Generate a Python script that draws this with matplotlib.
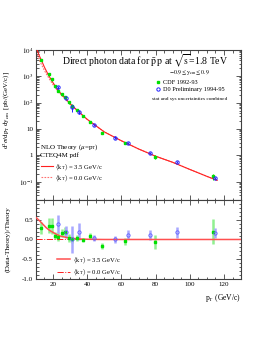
import matplotlib
matplotlib.use('Agg')
import matplotlib.pyplot as plt
from matplotlib.ticker import FixedLocator, FixedFormatter, MultipleLocator, NullFormatter
from matplotlib.lines import Line2D
import numpy as np

plt.rcParams['font.family'] = ['Liberation Serif', 'DejaVu Serif']
plt.rcParams['mathtext.fontset'] = 'stix'

# ---- data ----
cdf_pt = [12.7, 17.6, 19.4, 21.1, 23.2, 25.3, 27.0, 29.2, 31.1, 34.2, 37.8, 41.7, 48.7, 62.3, 79.9, 113.7]
cdf_val = [4150, 1200, 770, 410, 280, 210, 164, 102, 75, 51, 30, 19, 7.2, 3.0, 0.87, 0.16]
cdf_ratio = [0.29, 0.35, 0.35, 0.10, 0.07, 0.16, 0.20, 0.04, 0.00, 0.03, -0.01, 0.09, -0.16, -0.05, -0.06, 0.20]
cdf_err = [0.15, 0.19, 0.20, 0.10, 0.12, 0.10, 0.12, 0.10, 0.08, 0.08, 0.06, 0.07, 0.07, 0.08, 0.17, 0.32]

d0_pt = [23.0, 27.4, 31.4, 35.4, 44.0, 56.2, 63.8, 76.9, 92.6, 114.8]
d0_val = [380, 155, 68, 45, 13.9, 4.7, 2.9, 1.2, 0.55, 0.14]
d0_ratio = [0.39, 0.18, 0.00, 0.20, 0.04, 0.00, 0.12, 0.11, 0.18, 0.16]
d0_err = [0.22, 0.15, 0.35, 0.22, 0.08, 0.10, 0.12, 0.12, 0.13, 0.12]

theory_pt = [10, 11, 12, 13.5, 15, 17.5, 20, 22.5, 25, 30, 35, 40, 50, 60, 70, 80, 90, 100, 110, 116]
theory_kt0 = [8300, 5800, 4050, 2600, 1645, 860, 480, 290, 190, 87.5, 44.5, 23, 7.7, 3.55, 1.74, 0.92, 0.54, 0.29, 0.158, 0.112]
theory_kt35 = [12950, 8800, 5990, 3700, 2200, 1060, 571, 325, 205, 90.6, 45.2, 23.1, 7.7, 3.55, 1.74, 0.92, 0.54, 0.29, 0.158, 0.112]

ratio_pt = [10, 12, 14, 16, 18, 20, 22, 24, 26, 28, 32, 36, 40, 45, 50, 130]
ratio_kt35 = [0.56, 0.48, 0.39, 0.30, 0.23, 0.18, 0.13, 0.09, 0.07, 0.05, 0.025, 0.012, 0.006, 0.002, 0.0, 0.0]
ratio_kt0 = [0.0] * len(ratio_pt)

GREEN = '#00e000'
BLUE = '#2020ff'
RED = '#ff2020'

fig = plt.figure(figsize=(2.74, 3.54), dpi=100)
ax1 = fig.add_axes([0.131, 0.435, 0.749, 0.424])
ax2 = fig.add_axes([0.131, 0.212, 0.749, 0.223])

# ---- top panel ----
cdf_val_a = np.array(cdf_val)
cdf_top_err = cdf_val_a * np.array(cdf_err) / (1 + np.array(cdf_ratio))
d0_val_a = np.array(d0_val)
d0_top_err = d0_val_a * np.array(d0_err) / (1 + np.array(d0_ratio))

ax1.plot(theory_pt, theory_kt0, color='#ff7070', lw=0.8, ls=(0, (1.5, 1.2)), zorder=2)
ax1.plot(theory_pt, theory_kt35, color=RED, lw=0.8, zorder=3)
ax1.errorbar(cdf_pt, cdf_val, yerr=cdf_top_err, fmt='none', ecolor=GREEN, elinewidth=0.7, zorder=4)
ax1.errorbar(d0_pt, d0_val, yerr=d0_top_err, fmt='none', ecolor=BLUE, elinewidth=0.7, zorder=4)
h_cdf, = ax1.plot(cdf_pt, cdf_val, ls='none', marker='s', ms=1.9, color=GREEN, mec=GREEN, zorder=5)
h_d0, = ax1.plot(d0_pt, d0_val, ls='none', marker='o', ms=2.4, mfc='none', mec=BLUE, mew=0.7, zorder=6)

ax1.set_yscale('log')
ax1.set_xlim(10, 130)
ax1.set_ylim(0.02, 1e4)
ax1.yaxis.set_major_locator(FixedLocator([0.1, 1, 10, 100, 1000, 10000]))
ax1.yaxis.set_major_formatter(FixedFormatter([r'$10^{-1}$', '1', '10', r'$10^{2}$', r'$10^{3}$', r'$10^{4}$']))
ax1.yaxis.set_minor_formatter(NullFormatter())
ax1.xaxis.set_major_locator(MultipleLocator(20))
ax1.xaxis.set_minor_locator(MultipleLocator(5))
ax1.tick_params(labelbottom=False)

ax1.text(0.53, 0.928, r'Direct photon data for $\bar{\mathrm{p}}\,\mathrm{p}$ at $\sqrt{\mathrm{s}}$=1.8 TeV',
         transform=ax1.transAxes, ha='center', va='center', fontsize=7)
ax1.text(0.75, 0.848, r'$-0.9 \leq \mathrm{y_{cm}} \leq 0.9$', transform=ax1.transAxes,
         ha='center', va='center', fontsize=4.3)
leg1 = ax1.legend([h_cdf, h_d0], ['CDF 1992-93', 'D0 Preliminary 1994-95'],
                  loc='upper left', bbox_to_anchor=(0.56, 0.83), frameon=False, fontsize=4.5,
                  handlelength=1.0, handletextpad=0.3, labelspacing=0.25, borderpad=0.2)
ax1.add_artist(leg1)
ax1.text(0.75, 0.67, 'stat and sys uncertainties combined', transform=ax1.transAxes,
         ha='center', va='center', fontsize=3.8)

ax1.text(0.02, 0.355, r'NLO Theory ($\mu$=p$_\mathrm{T}$)', transform=ax1.transAxes,
         ha='left', va='center', fontsize=5)
ax1.text(0.02, 0.30, 'CTEQ4M pdf', transform=ax1.transAxes, ha='left', va='center', fontsize=5)
th_h1 = Line2D([], [], color=RED, lw=0.8)
th_h2 = Line2D([], [], color='#ff7070', lw=0.8, ls=(0, (1.5, 1.2)))
ax1.legend([th_h1, th_h2],
           [r'$\langle \mathrm{k_T} \rangle$ = 3.5 GeV/c', r'$\langle \mathrm{k_T} \rangle$ = 0.0 GeV/c'],
           loc='upper left', bbox_to_anchor=(0.0, 0.285), frameon=False, fontsize=4.8,
           handlelength=1.8, handletextpad=0.4, labelspacing=0.2, borderpad=0.2)

ax1.set_ylabel(r'$\mathrm{d}^{2}\sigma/\mathrm{dp_{T}\,dy_{cm}}$  [pb/(GeV/c)]', fontsize=5)
ax1.yaxis.set_label_coords(-0.115, 0.6)

# ---- bottom panel ----
ax2.errorbar(cdf_pt, cdf_ratio, yerr=cdf_err, fmt='none', ecolor='#90f090', elinewidth=1.8, zorder=2)
ax2.errorbar(d0_pt, d0_ratio, yerr=d0_err, fmt='none', ecolor='#a8a8ff', elinewidth=1.8, zorder=2)
ax2.plot(ratio_pt, ratio_kt0, color=RED, lw=0.7, ls='-.', zorder=3)
ax2.plot(ratio_pt, ratio_kt35, color='#ff5050', lw=1.1, zorder=3)
ax2.plot(cdf_pt, cdf_ratio, ls='none', marker='s', ms=1.9, color=GREEN, mec=GREEN, zorder=5)
ax2.plot(d0_pt, d0_ratio, ls='none', marker='o', ms=2.4, mfc='none', mec='#6060ff', mew=0.6, zorder=6)

ax2.set_xlim(10, 130)
ax2.set_ylim(-1.0, 1.0)
ax2.xaxis.set_major_locator(MultipleLocator(20))
ax2.xaxis.set_minor_locator(MultipleLocator(5))
ax2.yaxis.set_major_locator(FixedLocator([-1.0, -0.5, 0.0, 0.5]))
ax2.yaxis.set_major_formatter(FixedFormatter(['-1.0', '-0.5', '0.0', '0.5']))
ax2.yaxis.set_minor_locator(MultipleLocator(0.1))
bh1 = Line2D([], [], color='#ff5050', lw=1.1)
bh2 = Line2D([], [], color=RED, lw=0.7, ls='-.')
ax2.legend([bh1, bh2],
           [r'$\langle \mathrm{k_T} \rangle$ = 3.5 GeV/c', r'$\langle \mathrm{k_T} \rangle$ = 0.0 GeV/c'],
           loc='upper left', bbox_to_anchor=(0.08, 0.36), frameon=False, fontsize=4.8,
           handlelength=2.0, handletextpad=0.4, labelspacing=0.35, borderpad=0.2)
ax2.set_ylabel('(Data-Theory)/Theory', fontsize=5.3)
ax2.yaxis.set_label_coords(-0.125, 0.5)
ax2.set_xlabel(r'p$_\mathrm{T}$ (GeV/c)', fontsize=5.5, loc='right')
ax2.xaxis.set_label_coords(1.0, -0.17)

for ax in (ax1, ax2):
    for s in ax.spines.values():
        s.set_linewidth(0.8)
        s.set_color('#404040')
    ax.tick_params(which='both', direction='in', top=True, right=True, colors='#404040',
                   labelcolor='black', labelsize=5, width=0.6, pad=2)
    ax.tick_params(which='major', length=3.5)
    ax.tick_params(which='minor', length=1.8)

fig.savefig('out.png', dpi=100)
